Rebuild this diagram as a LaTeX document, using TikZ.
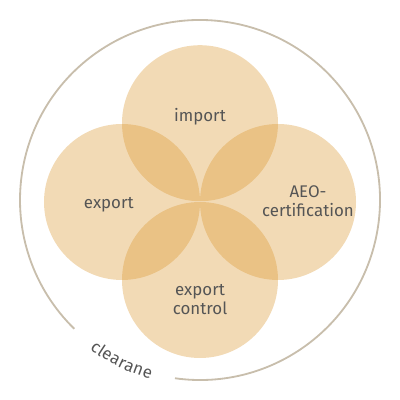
\documentclass[tikz,border=0pt]{standalone}
\usepackage{fontspec}
\setmainfont{Fira Sans}
\usetikzlibrary{positioning, calc, decorations.text}
\definecolor{petal}{RGB}{218,149,44}
\definecolor{ringgray}{RGB}{200,190,172}
\definecolor{labelgray}{RGB}{85,85,85}
\newcommand{\labelfont}{\fontsize{12}{13.5}\selectfont\color{labelgray}}
\tikzset{
	petal/.style={circle, minimum size=3.9cm, inner sep=0pt, fill=petal, fill opacity=0.35, draw=none},
	petaltext/.style={font=\labelfont, align=center, text=labelgray},
	ring/.style={draw=ringgray, line width=1.3pt},
}

\begin{document}
\begin{tikzpicture}
			\useasboundingbox (-5,-5) rectangle (5,5);
			
			% outer ring with a gap for the name
			\draw[ring] (-98:4.5) arc (-98:225.7:4.5);
			\path[decorate, decoration={text along path, text format delimiters={|}{|},
				text={|\labelfont|clearane}, text align=center, raise=-4pt}]
				(227:4.5) arc (227:261:4.5);
			
			% four petals
			\node[petal] (IMP) at (0,1.92) {};
			\node[petal] (EXP) at (-1.95,-0.05) {};
			\node[petal] (AEO) at (1.95,-0.05) {};
			\node[petal] (CTL) at (0,-2.0) {};
			
			\node[petaltext] (IMPT) at ($(IMP)+(0,0.15)$) {import};
			\node[petaltext] (EXPT) at ($(EXP)+(-0.33,-0.07)$) {export};
			\node[petaltext] (AEOT) at ($(AEO)+(0.75,0.03)$) {AEO-\\certification};
			\node[petaltext] (CTLT) at ($(CTL)+(0,-0.5)$) {export\\control};
			
		\end{tikzpicture}
\end{document}
